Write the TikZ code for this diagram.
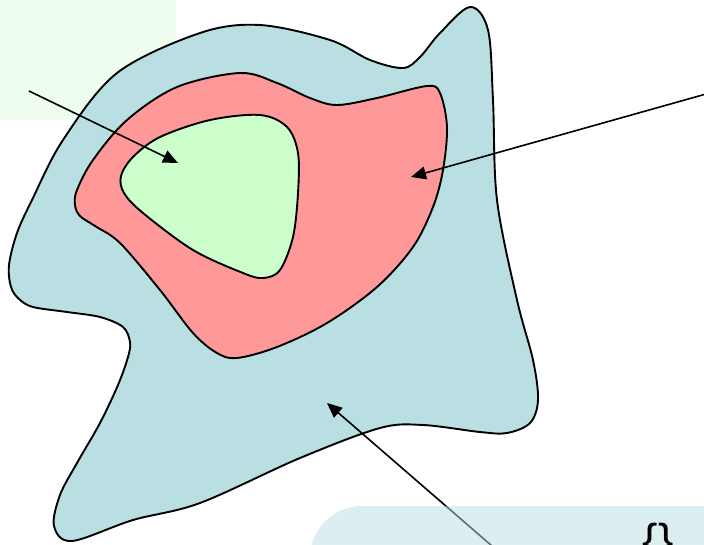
\documentclass[tikz,border=0pt]{standalone}
\usepackage{fontspec}
\setmainfont{Liberation Sans}
\usetikzlibrary{arrows.meta}
\definecolor{outerc}{HTML}{B9DFE3}
\definecolor{redc}{HTML}{FF9999}
\definecolor{greenc}{HTML}{CCFFCC}
\definecolor{paleg}{HTML}{EEFDEE}
\tikzset{
  blob/.style={draw=black, line width=1.9pt, line join=round},
  ptr/.style={draw=black, line width=1.6pt, -{Triangle[length=15pt,width=13pt]}},
}
\begin{document}
\begin{tikzpicture}[x=1pt,y=-1pt]
\useasboundingbox (0,0) rectangle (704,544);
\clip (0,0) rectangle (704,544);
\fill[white] (0,0) rectangle (704,544);
% pale green panel
\fill[paleg] (0,0) rectangle (176,120);
% outer blob
\draw[blob, fill=outerc] plot[smooth cycle, tension=0.55] coordinates {
 (17,233) (32,200) (63,140) (117,73) (200,33) (260,25) (330,40) (370,60) (403,68)
 (420,57) (440,33) (470,7) (488,30) (493,100) (497,200) (517,300) (533,360)
 (538,400) (530,423) (507,433) (480,432) (423,425) (380,428) (300,458) (200,503)
 (133,520) (72,541) (54,526) (60,495) (77,463) (100,423) (118,385) (128,357)
 (130,342) (123,327) (100,317) (67,312) (33,307) (19,299) (11,287) (9,265)};
% red blob
\draw[blob, fill=redc] plot[smooth cycle, tension=0.55] coordinates {
 (77,190) (93,160) (127,120) (177,87) (240,73) (277,83) (310,98) (337,105)
 (377,98) (427,86) (440,93) (447,127) (443,170) (433,207) (413,247) (377,287)
 (327,323) (277,347) (237,358) (217,353) (193,333) (160,290) (120,243) (95,226)
 (80,216) (75,205)};
% green blob
\draw[blob, fill=greenc] plot[smooth cycle, tension=0.55] coordinates {
 (121,176) (133,157) (160,137) (210,120) (260,115) (287,127) (298,153) (298,193)
 (293,237) (280,270) (263,278) (243,273) (193,250) (143,213) (124,193)};
% arrow endpoints
\coordinate (s1) at (29,91);   \coordinate (t1) at (178,163);
\coordinate (s2) at (706,94);  \coordinate (t2) at (411,177);
\coordinate (s3) at (492,546); \coordinate (t3) at (327,403);
\draw[ptr] (s1) -- (t1);
\draw[ptr] (s2) -- (t2);
\draw[ptr] (s3) -- (t3);
% lower panel
\fill[outerc, opacity=0.5, rounded corners=52pt] (310,506) rectangle (760,600);
\node[anchor=base, font=\fontsize{46}{50}\selectfont, inner sep=0pt] (code) at (658,556) {\{\}};
\end{tikzpicture}
\end{document}
